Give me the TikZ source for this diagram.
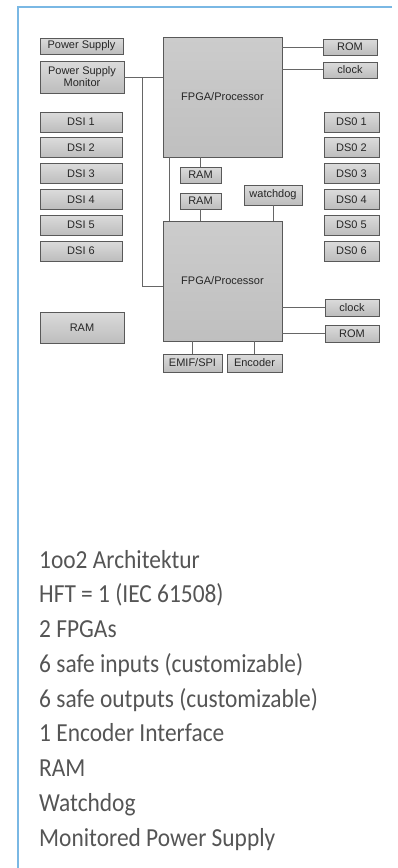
\documentclass[tikz,border=0pt]{standalone}
\usepackage{fontspec}
\setsansfont{Liberation Sans}
\newfontfamily\listfont[FakeStretch=0.9]{Carlito}
\definecolor{frameblue}{RGB}{122,184,228}
\definecolor{listgray}{RGB}{85,85,85}

\tikzset{
  block/.style={draw=black!65, line width=0.7pt, top color=black!14, bottom color=black!26,
    inner sep=0pt, align=center, text=black!85, font=\sffamily\fontsize{11}{12}\selectfont},
  chip/.style={block, top color=black!20, bottom color=black!25},
  wire/.style={draw=black!60, line width=0.8pt},
  feature/.style={anchor=base west, inner sep=0pt, text=listgray,
    font=\listfont\fontsize{26}{30}\selectfont},
}

\begin{document}
\begin{tikzpicture}[x=1pt,y=-1pt]
  \useasboundingbox (0,0) rectangle (398,868);
  % Rahmen
  \draw[frameblue, line width=2pt] (392,7) -- (18,7) -- (18,868);
  % Prozessoren
  \node[chip, minimum width=119pt, minimum height=120pt] (fpgaA) at (222.5,97) {FPGA/Processor};
  \node[chip, minimum width=119pt, minimum height=120pt] (fpgaB) at (222.5,281) {FPGA/Processor};
  % linke Seite
  \node[block, minimum width=83pt, minimum height=16pt] (psu) at (81.5,46) {Power Supply};
  \node[block, minimum width=84pt, minimum height=32pt] (psm) at (82,77) {Power Supply\\Monitor};
  \foreach \k in {1,...,6}
    \node[block, minimum width=82pt, minimum height=20pt] (dsi\k) at (81,{122+25.8*(\k-1)}) {DSI \k};
  \node[block, minimum width=84pt, minimum height=31pt] (ramL) at (82,327.5) {RAM};
  % Mitte
  \node[block, minimum width=41pt, minimum height=16pt] (ramA) at (200.5,175) {RAM};
  \node[block, minimum width=41pt, minimum height=16pt] (ramB) at (200.5,201) {RAM};
  \node[block, minimum width=58pt, minimum height=20pt] (wdg) at (273,195) {watchdog};
  \node[block, minimum width=59pt, minimum height=18pt] (emif) at (192.5,363) {EMIF/SPI};
  \node[block, minimum width=55pt, minimum height=18pt] (enc) at (254.5,363) {Encoder};
  % rechte Seite
  \node[block, minimum width=54pt, minimum height=16pt] (romA) at (350,47) {ROM};
  \node[block, minimum width=54pt, minimum height=16pt] (clkA) at (350,70) {clock};
  \foreach \k in {1,...,6}
    \node[block, minimum width=55pt, minimum height=20pt] (dso\k) at (351.5,{122+25.8*(\k-1)}) {DS0 \k};
  \node[block, minimum width=54pt, minimum height=17pt] (clkB) at (352,307.5) {clock};
  \node[block, minimum width=54pt, minimum height=17pt] (romB) at (352,333.5) {ROM};
  % Verbindungen
  \coordinate (bus) at (142,77);
  \draw[wire] (psm.east) -- (psm.east -| fpgaA.west);
  \draw[wire] (bus) |- ([yshift=-5pt]fpgaB.west);
  \draw[wire] ([xshift=7pt]fpgaA.south west) -- ([xshift=7pt]fpgaB.north west);
  \draw[wire] (ramA.north) -- (ramA.north |- fpgaA.south);
  \draw[wire] (ramB.south) -- (ramB.south |- fpgaB.north);
  \draw[wire] (wdg.south) -- (wdg.south |- fpgaB.north);
  \draw[wire] (emif.north) -- (emif.north |- fpgaB.south);
  \draw[wire] (enc.north) -- (enc.north |- fpgaB.south);
  \draw[wire] (romA.west) -- (romA.west -| fpgaA.east);
  \draw[wire] ([yshift=1pt]clkA.west) -- ([yshift=1pt]clkA.west -| fpgaA.east);
  \draw[wire] (clkB.west) -- (clkB.west -| fpgaB.east);
  \draw[wire] (romB.west) -- (romB.west -| fpgaB.east);
  % Merkmale
  \foreach \txt [count=\i] in {1oo2 Architektur, HFT = 1 (IEC 61508), 2 FPGAs,
      6 safe inputs (customizable), 6 safe outputs (customizable), 1 Encoder Interface,
      RAM, Watchdog, Monitored Power Supply}
    \node[feature] (feat\i) at (39,{568+34.75*(\i-1)}) {\txt};
\end{tikzpicture}
\end{document}
